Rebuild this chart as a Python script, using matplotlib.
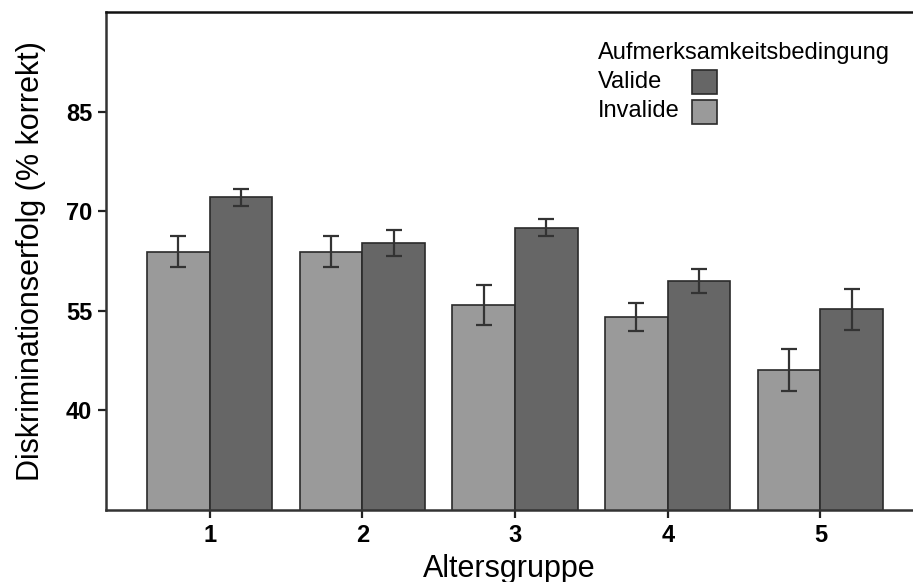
import numpy as np
import matplotlib
matplotlib.use("Agg")
import matplotlib.pyplot as plt
from matplotlib.patches import Rectangle

plt.rcParams['font.family'] = ['Liberation Sans', 'DejaVu Sans']

# data
groups = [1, 2, 3, 4, 5]
invalide = [63.9, 63.9, 55.9, 54.1, 46.1]
invalide_err = [2.35, 2.3, 3.05, 2.1, 3.2]
valide = [72.1, 65.2, 67.5, 59.5, 55.2]
valide_err = [1.3, 2.0, 1.3, 1.75, 3.1]
yticks = [40, 55, 70, 85]

c_valide = '#666666'
c_invalide = '#9a9a9a'
edge = '#2a2a2a'

fig = plt.figure(figsize=(9.13, 5.82), dpi=100)
ax = fig.add_axes([0.1161, 0.1237, 0.8839, 0.8557])

x = np.array(groups, dtype=float)
w = 0.41
ax.bar(x - w / 2, invalide, w, color=c_invalide, edgecolor=edge, linewidth=1.2,
       yerr=invalide_err, error_kw=dict(ecolor='#333333', elinewidth=1.6, capsize=6, capthick=1.6))
ax.bar(x + w / 2, valide, w, color=c_valide, edgecolor=edge, linewidth=1.2,
       yerr=valide_err, error_kw=dict(ecolor='#333333', elinewidth=1.6, capsize=6, capthick=1.6))

ax.set_ylim(25, 100)
ax.set_xlim(0.321, 5.606)
ax.set_yticks(yticks)
ax.set_xticks(groups)
ax.tick_params(axis='both', direction='out', length=6, width=1.6, color='#222222',
               labelsize=17, pad=4)
for lab in ax.get_xticklabels() + ax.get_yticklabels():
    lab.set_fontweight('bold')

ax.spines['right'].set_visible(False)
for s in ['left', 'bottom']:
    ax.spines[s].set_linewidth(1.8)
    ax.spines[s].set_color('#333333')
ax.spines['top'].set_linewidth(1.8)
ax.spines['top'].set_color('#111111')

ax.set_ylabel('Diskriminationserfolg (% korrekt)', fontsize=22, labelpad=14)
ax.set_xlabel('Altersgruppe', fontsize=22, labelpad=5)

# legend drawn by hand so both swatches line up
tx = 0.610
ax.text(tx, 0.918, 'Aufmerksamkeitsbedingung', transform=ax.transAxes,
        fontsize=17, va='center', ha='left')
ax.text(tx, 0.860, 'Valide', transform=ax.transAxes, fontsize=17, va='center', ha='left')
ax.text(tx, 0.801, 'Invalide', transform=ax.transAxes, fontsize=17, va='center', ha='left')
sw, sh = 25 / 807, 24 / 498
ax.add_patch(Rectangle((0.726, 0.860 - sh / 2), sw, sh, transform=ax.transAxes,
                       facecolor=c_valide, edgecolor=edge, linewidth=1.2, clip_on=False))
ax.add_patch(Rectangle((0.726, 0.800 - sh / 2), sw, sh, transform=ax.transAxes,
                       facecolor=c_invalide, edgecolor=edge, linewidth=1.2, clip_on=False))

fig.savefig('out.png', dpi=100)
